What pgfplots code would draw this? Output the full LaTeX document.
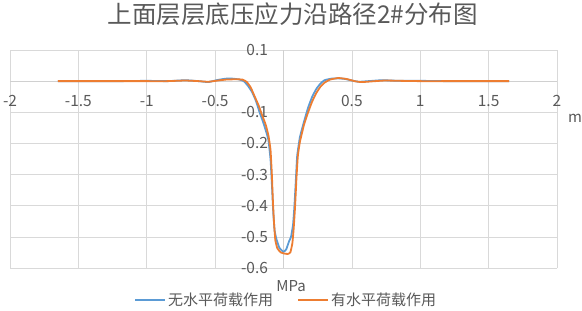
\documentclass[border=0pt]{standalone}
\usepackage{pgfplots}
\pgfplotsset{compat=1.18}
\usepackage{fontspec}
\setmainfont{Noto Sans CJK SC}
\definecolor{txt}{HTML}{595959}
\definecolor{gridc}{HTML}{D9D9D9}
\definecolor{axc}{HTML}{D0D0D0}
\definecolor{sblue}{HTML}{5B9BD5}
\definecolor{sorange}{HTML}{ED7D31}
\begin{document}
\begin{tikzpicture}
\useasboundingbox (-10bp,-43bp) rectangle (572bp,268bp);
\begin{axis}[
  at={(0,0)}, anchor=south west,
  scale only axis, width=547bp, height=218bp,
  xmin=-2, xmax=2, ymin=-0.6, ymax=0.1,
  axis lines=middle,
  axis line style={axc, line width=0.8pt, -},
  xtick={-2,-1.5,-1,-0.5,0,0.5,1,1.5,2},
  ytick={-0.6,-0.5,-0.4,-0.3,-0.2,-0.1,0,0.1},
  xticklabels={-2,-1.5,-1,-0.5,0,0.5,1,1.5,2},
  yticklabels={-0.6,-0.5,-0.4,-0.3,-0.2,-0.1,0,0.1},
  major tick length=0pt,
  grid=major,
  major grid style={gridc, line width=0.7pt},
  ticklabel style={font=\fontsize{15.5bp}{18bp}\selectfont, text=txt},
  xticklabel style={anchor=center, yshift=-20bp},
  yticklabel style={anchor=east, xshift=-12bp},
  xlabel={m}, ylabel={MPa},
  every axis x label/.style={at={(axis description cs:1.033,0.685)}, anchor=center, font=\fontsize{15bp}{18bp}\selectfont, text=txt},
  every axis y label/.style={at={(axis description cs:0.514,-0.0826)}, anchor=center, font=\fontsize{15bp}{18bp}\selectfont, text=txt},
  title={上面层层底压应力沿路径2\#分布图},
  title style={font=\fontsize{24.5bp}{28bp}\selectfont, text=txt, at={(axis description cs:0.517,1.0)}, anchor=center, yshift=30bp},
  legend columns=2,
  legend style={draw=none, fill=none, at={(axis description cs:0.505,-0.147)}, anchor=center,
    font=\fontsize{15bp}{18bp}\selectfont, text=txt,
    /tikz/every even column/.append style={column sep=22bp}},
  legend image code/.code={\draw[#1, line width=2pt] (0bp,0bp) -- (30bp,0bp);},
  clip=false,
]
\addplot[sblue, line width=1.8pt, line join=round, smooth, tension=0.25] coordinates {
(-1.65,0) (-1.5,0) (-1.2,0) (-1.0,0.001) (-0.85,0) (-0.72,0.003) (-0.62,0) (-0.55,-0.003)
(-0.48,0.004) (-0.42,0.008) (-0.37,0.008) (-0.32,0.005) (-0.29,0) (-0.26,-0.015)
(-0.23,-0.035) (-0.2,-0.065) (-0.175,-0.10) (-0.15,-0.13) (-0.125,-0.165) (-0.11,-0.19)
(-0.095,-0.25) (-0.085,-0.33) (-0.075,-0.42) (-0.065,-0.48) (-0.05,-0.51) (-0.03,-0.535)
(0,-0.548) (0.02,-0.54) (0.04,-0.515) (0.055,-0.50) (0.07,-0.46) (0.08,-0.40) (0.09,-0.32)
(0.10,-0.24) (0.12,-0.18) (0.15,-0.13) (0.18,-0.085) (0.21,-0.05) (0.24,-0.025) (0.27,-0.008)
(0.30,0.003) (0.35,0.008) (0.40,0.009) (0.45,0.007) (0.50,0.002) (0.55,-0.002) (0.62,0)
(0.72,0.003) (0.85,0.001) (1.0,0.001) (1.2,0) (1.5,0) (1.65,0)
};
\addlegendentry{无水平荷载作用}
\addplot[sorange, line width=1.8pt, line join=round, smooth, tension=0.25] coordinates {
(-1.65,0) (-1.5,0) (-1.2,0) (-1.0,0) (-0.85,0) (-0.72,0.002) (-0.62,0) (-0.55,-0.002)
(-0.48,0.002) (-0.42,0.005) (-0.35,0.006) (-0.30,0.005) (-0.27,-0.002) (-0.24,-0.02)
(-0.21,-0.05) (-0.18,-0.08) (-0.16,-0.105) (-0.13,-0.14) (-0.11,-0.175) (-0.095,-0.22)
(-0.085,-0.30) (-0.078,-0.38) (-0.07,-0.45) (-0.06,-0.51) (-0.045,-0.537) (-0.02,-0.55)
(0.0,-0.553) (0.03,-0.555) (0.05,-0.55) (0.065,-0.52) (0.075,-0.47) (0.085,-0.40)
(0.095,-0.31) (0.105,-0.24) (0.12,-0.195) (0.15,-0.14) (0.18,-0.10) (0.21,-0.065)
(0.24,-0.038) (0.27,-0.018) (0.30,-0.005) (0.34,0.005) (0.40,0.010) (0.46,0.007)
(0.52,0) (0.57,-0.003) (0.64,-0.001) (0.74,0.002) (0.85,0.001) (1.0,0) (1.2,0) (1.5,0) (1.65,0)
};
\addlegendentry{有水平荷载作用}
\end{axis}
\end{tikzpicture}
\end{document}
